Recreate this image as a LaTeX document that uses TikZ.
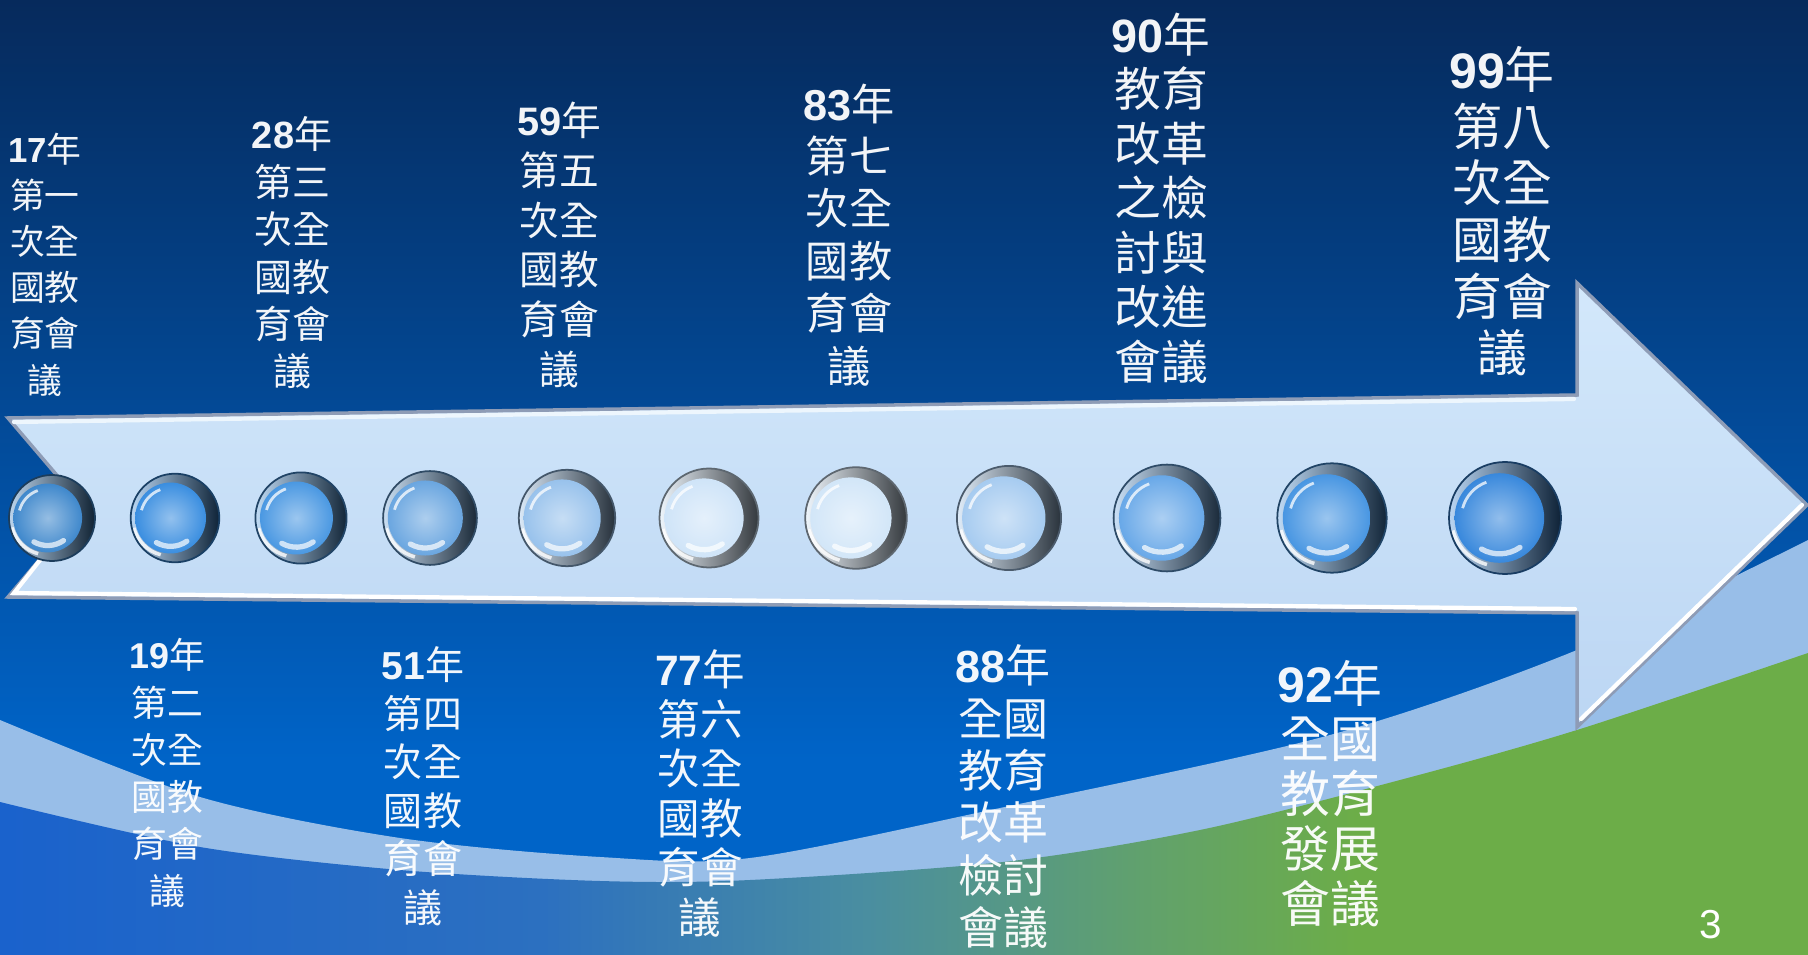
\documentclass[tikz,border=0pt]{standalone}
\usepackage{fontspec}
\setmainfont{Noto Sans CJK TC}
\newfontfamily\numfont{Liberation Sans}
\usetikzlibrary{calc}

\definecolor{skytop}{HTML}{062A5C}
\definecolor{skymid}{HTML}{0050A8}
\definecolor{skylow}{HTML}{0064C8}
\definecolor{bandblue}{HTML}{98BEE8}
\definecolor{groundA}{HTML}{1A62CC}
\definecolor{groundB}{HTML}{2C70C0}
\definecolor{groundC}{HTML}{4A8EA0}
\definecolor{groundD}{HTML}{62A26A}
\definecolor{groundE}{HTML}{6CAD48}
\definecolor{arrowtop}{HTML}{D3E8FB}
\definecolor{arrowlow}{HTML}{BCD6F3}
\definecolor{arrowrim}{HTML}{8E9CB6}
\definecolor{faceA}{HTML}{3F88CC}
\definecolor{faceB}{HTML}{3A8EE0}
\definecolor{faceC}{HTML}{4A98E2}
\definecolor{faceD}{HTML}{6AA6E0}
\definecolor{faceE}{HTML}{98C2EC}
\definecolor{faceF}{HTML}{CFE4F8}
\definecolor{faceG}{HTML}{D2E6F8}
\definecolor{faceH}{HTML}{A6CBF0}
\definecolor{faceI}{HTML}{68A8E8}
\definecolor{faceJ}{HTML}{4896E2}
\definecolor{faceK}{HTML}{3888DC}

\pgfdeclarehorizontalshading{groundfade}{100bp}{color(0bp)=(groundA); color(25bp)=(groundA); color(40bp)=(groundB); color(49bp)=(groundC); color(57bp)=(groundD); color(62.5bp)=(groundE); color(100bp)=(groundE)}

\newcommand\lblsize[2]{\fontsize{#1}{#2}\selectfont}
\newcommand\yearnum[1]{{\numfont\bfseries #1}}

\tikzset{
  yearlabel/.style={anchor=north, inner sep=0pt, align=center, text=white, text opacity=.95},
  knob/.style={circle, inner sep=0pt, draw=#1!45!black, line width=0.5pt,
    left color=#1!35!white, right color=#1!25!black,
    path picture={
      \pgfpointdiff{\pgfpointanchor{path picture bounding box}{center}}%
                   {\pgfpointanchor{path picture bounding box}{east}}%
      \pgfgetlastxy{\kr}{\kdy}%
      \coordinate (kf) at ([xshift=-0.1*\kr]path picture bounding box.center);
      \shade[inner color=#1!55!white, outer color=#1] (kf) circle [radius=0.8*\kr];
      \draw[white, opacity=.75, line width=0.8pt] (kf) ++(110:0.68*\kr)
        arc [start angle=110, end angle=165, radius=0.68*\kr];
      \draw[#1!20!white, opacity=.9, line width=1.5pt, line cap=round] (kf) ++(-55:0.64*\kr)
        arc [start angle=-55, end angle=-120, radius=0.64*\kr];
      \draw[white, opacity=.8, line width=1pt] (kf) ++(195:0.86*\kr)
        arc [start angle=195, end angle=255, radius=0.86*\kr];
    }},
  arrowshine/.style={white, line width=1.2pt, line cap=round}
}

\begin{document}
\begin{tikzpicture}[x=0.1mm, y=-0.1mm]
  \useasboundingbox (0,0) rectangle (1808,955);
  \clip (0,0) rectangle (1808,955);

  % background
  \fill[skylow] (0,740) rectangle (1808,955);
  \shade[top color=skytop, middle color=skymid, bottom color=skylow] (0,0) rectangle (1808,760);
  \fill[bandblue] plot[smooth] coordinates {(0,720) (200,797) (400,838) (600,857) (750,858) (1000,808) (1330,735) (1577,650) (1808,540)}
    -- (1808,955) -- (0,955) -- cycle;
  \shade[shading=groundfade] plot[smooth] coordinates {(0,802) (200,847) (400,870) (600,881) (750,880) (1003,862) (1200,830) (1400,780) (1577,730) (1808,653)}
    -- (1808,955) -- (0,955) -- cycle;

  % arrow
  \coordinate (tailtop) at (8,418);
  \coordinate (bodytop) at (1577,395);
  \coordinate (headtop) at (1577,283);
  \coordinate (tip) at (1807,505);
  \coordinate (headlow) at (1577,727);
  \coordinate (bodylow) at (1577,613);
  \coordinate (taillow) at (8,597);
  \coordinate (notch) at (84,507);
  \shade[top color=arrowtop, bottom color=arrowlow]
    (tailtop) -- (bodytop) -- (headtop) -- (tip) -- (headlow) -- (bodylow) -- (taillow) -- (notch) -- cycle;
  \draw[arrowrim, line width=1pt]
    (tailtop) -- (bodytop) -- (headtop) -- (tip) -- (headlow) -- (bodylow) -- (taillow) -- (notch) -- cycle;
  \draw[arrowshine] ($(tip)+(-5,0)$) -- ($(headlow)+(4,-8)$);
  \draw[arrowshine] ($(bodylow)+(-2,-4)$) -- ($(taillow)+(6,-4)$) -- ($(notch)+(-2,0)$);
  \draw[arrowshine, white!60!arrowtop] ($(tailtop)+(6,4)$) -- ($(bodytop)+(-3,4)$);

  % knobs
  \node[knob=faceA, minimum size=8.6mm] (k17) at (52,518) {};
  \node[knob=faceB, minimum size=8.86mm] (k19) at (175,518) {};
  \node[knob=faceC, minimum size=9.12mm] (k28) at (301,518) {};
  \node[knob=faceD, minimum size=9.38mm] (k51) at (430,518) {};
  \node[knob=faceE, minimum size=9.64mm] (k59) at (567,518) {};
  \node[knob=faceF, minimum size=9.9mm] (k77) at (709,518) {};
  \node[knob=faceG, minimum size=10.16mm] (k83) at (856,518) {};
  \node[knob=faceH, minimum size=10.42mm] (k88) at (1009,518) {};
  \node[knob=faceI, minimum size=10.68mm] (k90) at (1167,518) {};
  \node[knob=faceJ, minimum size=10.94mm] (k92) at (1332,518) {};
  \node[knob=faceK, minimum size=11.2mm] (k99) at (1505,518) {};

  % labels above
  \node[yearlabel, font=\lblsize{9.9}{13.15}] (l17) at (45,132) {\yearnum{17}年\\第一\\次全\\國教\\育會\\議};
  \node[yearlabel, font=\lblsize{10.8}{13.5}] (l28) at (292,116) {\yearnum{28}年\\第三\\次全\\國教\\育會\\議};
  \node[yearlabel, font=\lblsize{11.3}{14.2}] (l59) at (559,101) {\yearnum{59}年\\第五\\次全\\國教\\育會\\議};
  \node[yearlabel, font=\lblsize{12.3}{14.9}] (l83) at (849,83) {\yearnum{83}年\\第七\\次全\\國教\\育會\\議};
  \node[yearlabel, font=\lblsize{13.3}{15.5}] (l90) at (1161,12) {\yearnum{90}年\\教育\\改革\\之檢\\討與\\改進\\會議};
  \node[yearlabel, font=\lblsize{14.2}{16.1}] (l99) at (1502,46) {\yearnum{99}年\\第八\\次全\\國教\\育會\\議};

  % labels below
  \node[yearlabel, font=\lblsize{10.2}{13.4}] (l19) at (167,638) {\yearnum{19}年\\第二\\次全\\國教\\育會\\議};
  \node[yearlabel, font=\lblsize{11.1}{13.8}] (l51) at (423,646) {\yearnum{51}年\\第四\\次全\\國教\\育會\\議};
  \node[yearlabel, font=\lblsize{12.1}{14.1}] (l77) at (700,649) {\yearnum{77}年\\第六\\次全\\國教\\育會\\議};
  \node[yearlabel, font=\lblsize{12.8}{14.9}] (l88) at (1003,644) {\yearnum{88}年\\全國\\教育\\改革\\檢討\\會議};
  \node[yearlabel, font=\lblsize{14.2}{15.6}] (l92) at (1330,660) {\yearnum{92}年\\全國\\教育\\發展\\會議};

  \node[text=white, font=\numfont\lblsize{11.5}{14}] (pagenum) at (1711,925) {3};
\end{tikzpicture}
\end{document}
